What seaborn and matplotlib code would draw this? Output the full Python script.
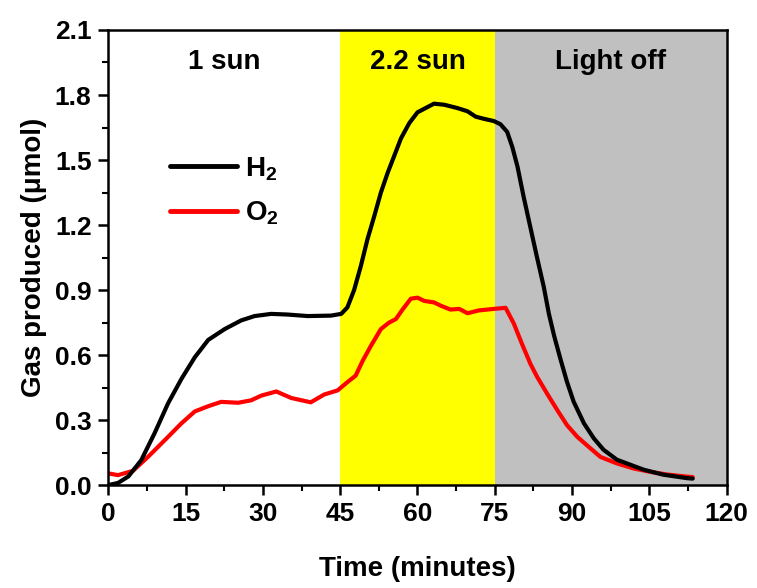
import matplotlib
matplotlib.use('Agg')
import matplotlib.pyplot as plt
import pandas as pd
import seaborn as sns

# Dati (tempo in minuti, gas in umol)
h2_time = [0, 1.9, 3.9, 6.4, 9.0, 11.6, 14.2, 16.8, 19.4, 22.6, 25.8, 28.4, 31.6, 34.8,
           38.7, 43.2, 45.2, 46.4, 47.7, 49, 50.3, 51.6, 52.9, 54.2, 55.5, 56.8, 58.4,
           60, 61.6, 63.2, 65.2, 67.7, 69.7, 71.3, 72.9, 74.8, 76.1, 77.4, 78.4, 79.4,
           80.6, 81.9, 83.2, 84.5, 85.5, 86.5, 87.7, 89, 90.3, 92.3, 94.2, 96.1, 98.7,
           101.3, 103.9, 107.7, 112.3, 113.4]
h2_gas = [0.0, 0.01, 0.04, 0.115, 0.24, 0.377, 0.49, 0.59, 0.67, 0.72, 0.76, 0.78, 0.79, 0.787,
          0.78, 0.782, 0.79, 0.82, 0.9, 1.01, 1.135, 1.24, 1.35, 1.44, 1.52, 1.60, 1.67,
          1.72, 1.74, 1.76, 1.755, 1.74, 1.725, 1.70, 1.69, 1.68, 1.665, 1.63, 1.56, 1.47,
          1.33, 1.19, 1.05, 0.915, 0.79, 0.69, 0.585, 0.477, 0.385, 0.285, 0.216, 0.163, 0.117,
          0.094, 0.071, 0.048, 0.032, 0.03]

o2_time = [0, 1.9, 4.8, 7.7, 11, 14.2, 16.8, 19.4, 21.9, 25.2, 27.7, 29.7, 32.6, 35.5,
           39.3, 41.9, 44.5, 46.4, 48, 49.4, 51, 52.9, 54.5, 55.8, 57.1, 58.7, 60, 61.3,
           63.2, 64.5, 66.4, 68.1, 69.7, 71.9, 74.8, 77.1, 78.7, 80.3, 81.9, 83.2, 85.2,
           87.1, 89, 91, 93.2, 95.5, 98.7, 101.9, 105.2, 108.4, 112.3, 113.4]
o2_gas = [0.054, 0.046, 0.066, 0.13, 0.208, 0.285, 0.34, 0.364, 0.384, 0.38, 0.391, 0.413,
          0.432, 0.402, 0.382, 0.418, 0.437, 0.475, 0.505, 0.575, 0.644, 0.72, 0.75, 0.766,
          0.81, 0.86, 0.865, 0.85, 0.843, 0.828, 0.81, 0.813, 0.793, 0.806, 0.813, 0.818,
          0.745, 0.65, 0.56, 0.5, 0.42, 0.347, 0.277, 0.223, 0.177, 0.13, 0.10, 0.077,
          0.061, 0.049, 0.039, 0.037]

regions = ['1 sun', '2.2 sun', 'Light off']
region_start = [0, 45, 75]
region_end = [45, 75, 120]
region_colors = ['white', '#ffff00', '#c0c0c0']

x_ticks = [0, 15, 30, 45, 60, 75, 90, 105, 120]
y_ticks = [0.0, 0.3, 0.6, 0.9, 1.2, 1.5, 1.8, 2.1]

sns.set_style('ticks')
plt.rcParams['font.family'] = ['Liberation Sans', 'DejaVu Sans']
plt.rcParams['font.weight'] = 'bold'
plt.rcParams['mathtext.fontset'] = 'custom'
plt.rcParams['mathtext.bf'] = 'Liberation Sans:bold'
plt.rcParams['mathtext.rm'] = 'Liberation Sans:bold'
for k in ['text.color', 'axes.labelcolor', 'xtick.color', 'ytick.color', 'axes.edgecolor']:
    plt.rcParams[k] = 'black'

df_h2 = pd.DataFrame({'time': h2_time, 'gas': h2_gas})
df_o2 = pd.DataFrame({'time': o2_time, 'gas': o2_gas})

fig = plt.figure(figsize=(7.57, 5.88), dpi=100)
ax = fig.add_axes([0.143, 0.175, 0.817, 0.774])

# Zone di illuminazione
for name, x0, x1, c in zip(regions, region_start, region_end, region_colors):
    ax.axvspan(x0, x1, color=c, zorder=0, lw=0)
    ax.text((x0 + x1) / 2, 1.95, name, ha='center', va='center',
            fontsize=20, fontweight='bold')

sns.lineplot(data=df_h2, x='time', y='gas', ax=ax, color='black', lw=3,
             label=r'H$_\mathbf{2}$', zorder=3)
sns.lineplot(data=df_o2, x='time', y='gas', ax=ax, color='#ff0000', lw=3,
             label=r'O$_\mathbf{2}$', zorder=2)

ax.set_xlim(0, 120)
ax.set_ylim(0, 2.1)
ax.set_xticks(x_ticks)
ax.set_yticks(y_ticks)
ax.set_xticks([7.5 + 15 * i for i in range(8)], minor=True)
ax.set_yticks([0.15 + 0.3 * i for i in range(7)], minor=True)
ax.set_yticklabels([f'{v:.1f}' for v in y_ticks])
ax.tick_params(which='major', length=7, width=1.8, labelsize=19, pad=5)
ax.tick_params(which='minor', length=4, width=1.5)
for s in ax.spines.values():
    s.set_linewidth(1.8)
    s.set_visible(True)

ax.set_xlabel('Time (minutes)', fontsize=20, fontweight='bold', labelpad=22)
ax.set_ylabel('Gas produced (\u03bcmol)', fontsize=20, fontweight='bold', labelpad=6)

leg = ax.legend(loc='upper left', bbox_to_anchor=(0.06, 0.78), frameon=False,
                fontsize=20, handlelength=2.4, handletextpad=0.3, labelspacing=0.6)
for line in leg.get_lines():
    line.set_linewidth(3.5)

fig.savefig('out.png', dpi=100)
